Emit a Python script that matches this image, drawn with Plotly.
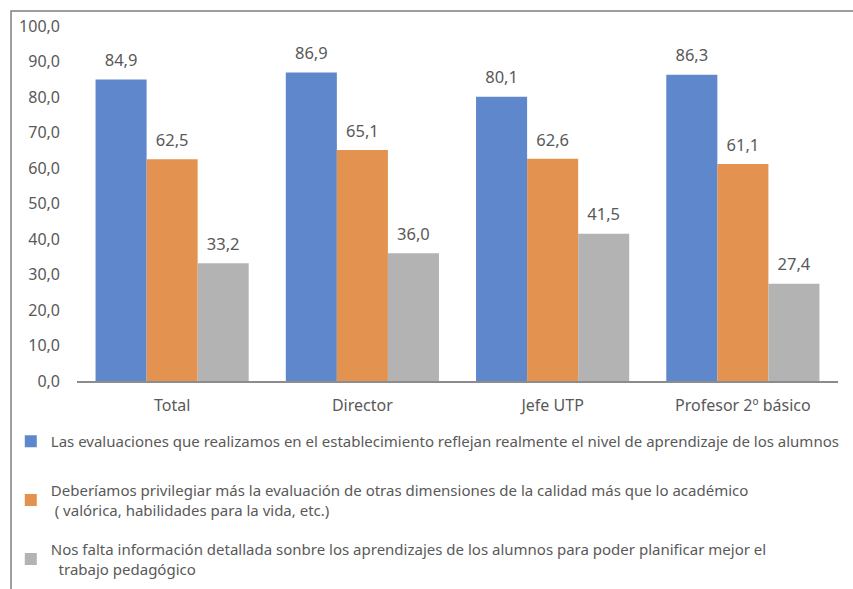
import plotly.graph_objects as go

# Categories and series values
categories = ["Total", "Director", "Jefe UTP", "Profesor 2º básico"]
series_names = [
    "Las evaluaciones que realizamos en el establecimiento reflejan realmente el nivel de aprendizaje de los alumnos",
    "Deberíamos privilegiar más la evaluación de otras dimensiones de la calidad más que lo académico<br> ( valórica, habilidades para la vida, etc.)",
    "Nos falta información detallada sonbre los aprendizajes de los alumnos para poder planificar mejor el<br>  trabajo pedagógico",
]
evaluaciones_reflejan = [84.9, 86.9, 80.1, 86.3]
privilegiar_otras = [62.5, 65.1, 62.6, 61.1]
falta_informacion = [33.2, 36.0, 41.5, 27.4]
y_ticks = [0, 10, 20, 30, 40, 50, 60, 70, 80, 90, 100]

series_values = [evaluaciones_reflejan, privilegiar_otras, falta_informacion]
colors = ["#5F87CB", "#E3934F", "#B3B3B3"]
legend_ids = ["legend", "legend2", "legend3"]
legend_tops = [0.2784, 0.1952, 0.0951]  # container fractions

FONT = "Noto Sans"
TEXT_COLOR = "#595959"

fig = go.Figure()
for i, (name, vals, col) in enumerate(zip(series_names, series_values, colors)):
    fig.add_trace(go.Bar(
        x=categories,
        y=vals,
        name=name,
        marker=dict(color=col, line=dict(width=0)),
        offsetgroup=str(i),
        legend=legend_ids[i],
    ))
    # value labels, lifted above each bar by an invisible marker
    fig.add_trace(go.Scatter(
        x=categories,
        y=vals,
        mode="markers+text",
        marker=dict(size=13, opacity=0),
        text=vals,
        texttemplate="%{y:.1f}",
        textposition="top center",
        textfont=dict(family=FONT, size=16.5, color=TEXT_COLOR),
        offsetgroup=str(i),
        showlegend=False,
        hoverinfo="skip",
        cliponaxis=False,
    ))

legend_common = dict(
    orientation="v",
    x=-0.087,
    xanchor="left",
    yref="container",
    yanchor="top",
    font=dict(family=FONT, size=15, color=TEXT_COLOR),
    itemwidth=30,
    bgcolor="rgba(0,0,0,0)",
)

fig.update_layout(
    width=853,
    height=589,
    margin=dict(l=77, r=15, t=26, b=208, autoexpand=False),
    paper_bgcolor="white",
    plot_bgcolor="white",
    separators=",.",
    barmode="group",
    scattermode="group",
    bargap=0.195,
    bargroupgap=0,
    font=dict(family=FONT, size=16, color=TEXT_COLOR),
    legend=dict(y=legend_tops[0], **legend_common),
    legend2=dict(y=legend_tops[1], **legend_common),
    legend3=dict(y=legend_tops[2], **legend_common),
    xaxis=dict(
        showline=True,
        linecolor="#8C8C8C",
        linewidth=1.5,
        ticks="",
        ticklabelstandoff=9,
        tickfont=dict(family=FONT, size=16, color=TEXT_COLOR),
        showgrid=False,
    ),
    yaxis=dict(
        range=[0, 100],
        tickvals=y_ticks,
        tickformat=".1f",
        showgrid=False,
        zeroline=False,
        showline=False,
        ticks="",
        ticklabelstandoff=16,
        tickfont=dict(family=FONT, size=16, color=TEXT_COLOR),
    ),
    shapes=[dict(
        type="rect",
        xref="paper", yref="paper",
        x0=-0.0867, x1=1.5, y0=-1.5, y1=1.0423,
        line=dict(color="#7F7F7F", width=1.5),
        fillcolor="rgba(0,0,0,0)",
        layer="below",
    )],
)

fig.write_html("out.html")
